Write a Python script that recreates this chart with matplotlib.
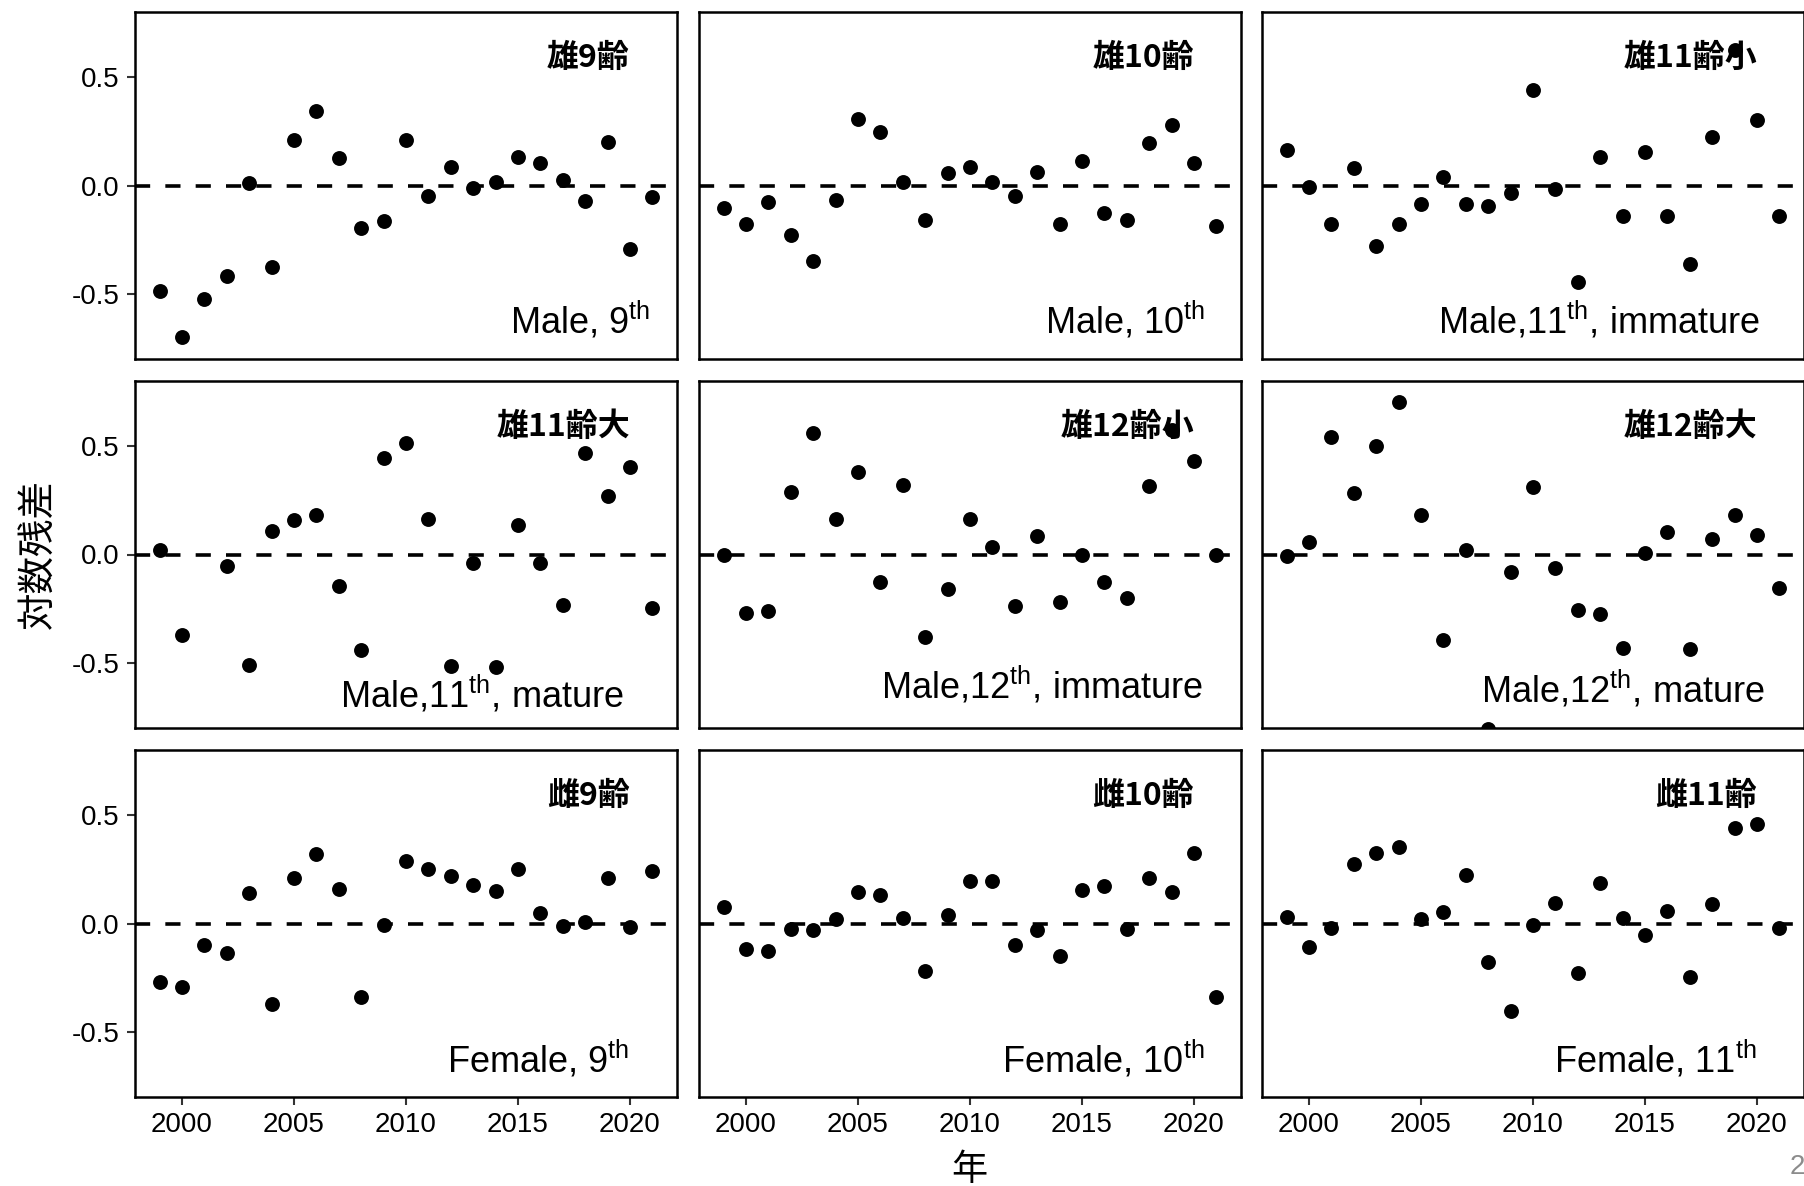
import matplotlib
matplotlib.use('Agg')
import matplotlib.pyplot as plt
import numpy as np

plt.rcParams['font.family'] = ['Liberation Sans', 'Noto Sans CJK JP']
plt.rcParams['mathtext.fontset'] = 'custom'
plt.rcParams['mathtext.rm'] = 'Liberation Sans'
plt.rcParams['mathtext.it'] = 'Liberation Sans:italic'

years = np.arange(1999, 2022)

# log residuals, 1999-2021
male9 = [-0.486, -0.697, -0.523, -0.417, 0.011, -0.376, 0.209, 0.344, 0.125, -0.196, -0.165, 0.209,
         -0.050, 0.087, -0.012, 0.014, 0.133, 0.106, 0.026, -0.070, 0.202, -0.292, -0.054]
male10 = [-0.104, -0.176, -0.076, -0.229, -0.350, -0.066, 0.306, 0.248, 0.018, -0.161, 0.057, 0.087,
          0.018, -0.050, 0.064, -0.176, 0.113, -0.127, -0.157, 0.194, 0.278, 0.102, -0.188]
male11_imm = [0.164, -0.008, -0.177, 0.080, -0.280, -0.177, -0.086, 0.041, -0.086, -0.096, -0.035, 0.439,
              -0.017, -0.445, 0.133, -0.142, 0.156, -0.142, -0.364, 0.225, 0.624, 0.304, -0.142]
male11_mat = [0.020, -0.369, np.nan, -0.053, -0.509, 0.110, 0.157, 0.184, -0.145, -0.442, 0.444, 0.515,
              0.165, -0.515, -0.038, -0.520, 0.137, -0.038, -0.233, 0.468, 0.270, 0.404, -0.247]
male12_imm = [0.000, -0.270, -0.262, 0.287, 0.561, 0.165, 0.381, -0.127, 0.322, -0.380, -0.160, 0.162,
              0.035, -0.239, 0.084, -0.220, 0.000, -0.127, -0.201, 0.317, 0.574, 0.431, 0.000]
male12_mat = [-0.006, 0.058, 0.541, 0.284, 0.502, 0.701, 0.183, -0.396, 0.020, -0.805, -0.081, 0.311,
              -0.064, -0.258, -0.273, -0.433, 0.008, 0.102, -0.434, 0.072, 0.184, 0.090, -0.155]
female9 = [-0.272, -0.292, -0.098, -0.136, 0.139, -0.373, 0.209, 0.322, 0.159, -0.337, -0.009, 0.289,
           0.249, 0.217, 0.179, 0.150, 0.250, 0.050, -0.011, 0.005, 0.209, -0.017, 0.240]
female10 = [0.075, -0.116, -0.128, -0.024, -0.032, 0.021, 0.147, 0.130, 0.024, -0.218, 0.040, 0.195,
            0.195, -0.101, -0.029, -0.150, 0.153, 0.174, -0.024, 0.212, 0.147, 0.325, -0.340]
female11 = [0.029, -0.108, -0.020, 0.276, 0.324, 0.353, 0.021, 0.052, 0.224, -0.177, -0.403, -0.006,
            0.096, -0.226, 0.188, 0.026, -0.055, 0.058, -0.246, 0.090, 0.441, 0.460, -0.020]

series = [male9, male10, male11_imm, male11_mat, male12_imm, male12_mat, female9, female10, female11]
titles = ['雄9齢', '雄10齢', '雄11齢小', '雄11齢大', '雄12齢小', '雄12齢大', '雌9齢', '雌10齢', '雌11齢']
labels = ['Male, 9$^{\\mathrm{th}}$', 'Male, 10$^{\\mathrm{th}}$', 'Male,11$^{\\mathrm{th}}$, immature',
          'Male,11$^{\\mathrm{th}}$, mature', 'Male,12$^{\\mathrm{th}}$, immature', 'Male,12$^{\\mathrm{th}}$, mature',
          'Female, 9$^{\\mathrm{th}}$', 'Female, 10$^{\\mathrm{th}}$', 'Female, 11$^{\\mathrm{th}}$']
xticks = [2000, 2005, 2010, 2015, 2020]
yticks = [-0.5, 0.0, 0.5]
yticklabels = ['-0.5', '0.0', '0.5']

# where the english labels sit (right edge, baseline) in axes fraction
lab_pos = [(0.950, 0.075), (0.934, 0.075), (0.918, 0.075),
           (0.902, 0.058), (0.930, 0.086), (0.928, 0.075),
           (0.913, 0.072), (0.932, 0.072), (0.913, 0.072)]

W, H = 1804, 1186
col_left = [135, 699, 1262]
row_top = [12, 381, 750]
pw, ph = 542, 347

fig = plt.figure(figsize=(W / 100, H / 100), dpi=100)

for i in range(9):
    r, c = divmod(i, 3)
    ax = fig.add_axes([col_left[c] / W, 1 - (row_top[r] + ph) / H, pw / W, ph / H])
    ax.axhline(0, color='black', lw=2.6, ls=(0, (4.2, 4.2)), zorder=1)
    ax.scatter(years, series[i], s=115, color='black', linewidths=0, zorder=3)
    ax.set_xlim(1997.9, 2022.1)
    ax.set_ylim(-0.8, 0.8)
    ax.set_xticks(xticks)
    ax.set_yticks(yticks)
    ax.set_yticklabels(yticklabels)
    ax.tick_params(length=6, width=1.5, color='#333333', labelsize=20, pad=5, labelcolor='black')
    for s in ax.spines.values():
        s.set_linewidth(1.8)
        s.set_color('black')
    if c != 0:
        ax.tick_params(axis='y', left=False, labelleft=False)
    if r != 2:
        ax.tick_params(axis='x', bottom=False, labelbottom=False)
    ax.text(2020, 0.59, titles[i], ha='right', va='center', fontsize=23, fontweight='bold',
            family='Noto Sans CJK JP', zorder=2)
    ax.text(lab_pos[i][0], lab_pos[i][1], labels[i], transform=ax.transAxes,
            ha='right', va='baseline', fontsize=26)

fig.text(38 / W, 1 - 554 / H, '対数残差', rotation=90, ha='center', va='center',
         fontsize=27, family='Noto Sans CJK JP')
fig.text(969 / W, 1 - 1170 / H, '年', ha='center', va='center', fontsize=26, family='Noto Sans CJK JP')
fig.text(1790 / W, 1 - 1167 / H, '2', ha='left', va='center', fontsize=20, color='#8c8c8c')

fig.savefig('out.png', dpi=100)
